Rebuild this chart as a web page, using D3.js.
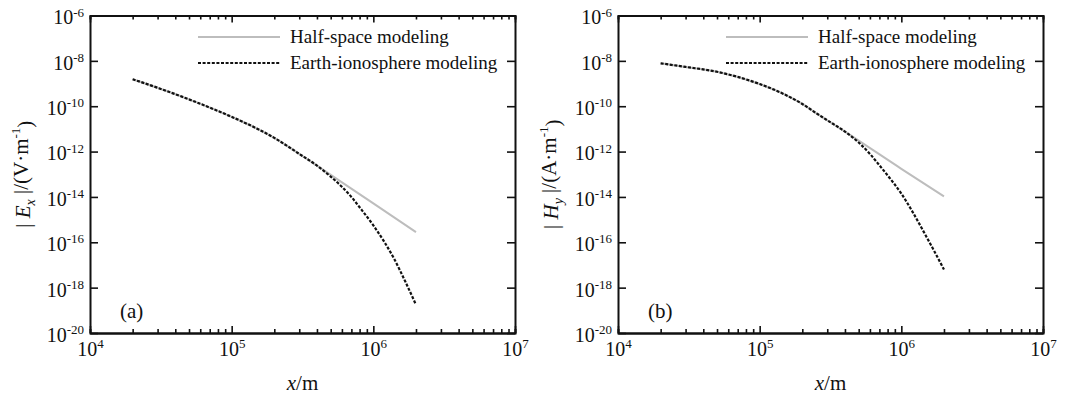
<!DOCTYPE html>
<html>
<head>
<meta charset="utf-8">
<script src="https://cdn.jsdelivr.net/npm/d3@7"></script>
<style>
  body { margin: 0; background: #fff; }
  text { font-family: "Liberation Serif", "Times New Roman", serif; fill: #111; }
</style>
</head>
<body>
<svg id="chart" width="1066" height="395"></svg>
<script>
// distances along the surface (m)
const xA = [2e4, 3e4, 5e4, 1e5, 1.5e5, 2e5, 3e5, 4e5];
const exShared = [1.55e-9, 6.5e-10, 2.0e-10, 3.4e-11, 1.05e-11, 4.0e-12, 7.9e-13, 2.4e-13];
const exHalfTailX = [1e6, 2e6];
const exHalfTail = [5.2e-15, 2.8e-16];
const exEarthTailX = [5e5, 6e5, 7e5, 8e5, 1e6, 1.2e6, 1.4e6, 1.7e6, 2e6];
const exEarthTail = [7.9e-14, 2.8e-14, 1.0e-14, 3.5e-15, 5.6e-16, 1.0e-16, 1.9e-17, 1.6e-18, 1.75e-19];

const xB = [2e4, 3e4, 5e4, 1e5, 1.5e5, 2e5, 2.5e5, 3e5, 4e5];
const hyShared = [7.8e-9, 5.4e-9, 3.3e-9, 9.5e-10, 3.3e-10, 1.26e-10, 5.0e-11, 2.4e-11, 7.6e-12];
const hyHalfTailX = [1e6, 2e6];
const hyHalfTail = [1.74e-13, 1.05e-14];
const hyEarthTailX = [5e5, 6e5, 7e5, 8e5, 1e6, 1.2e6, 1.5e6, 1.7e6, 2e6];
const hyEarthTail = [2.5e-12, 7.9e-13, 2.5e-13, 8.9e-14, 1.4e-14, 2.2e-15, 1.8e-16, 4.3e-17, 6.3e-18];

const xTickExps = [4, 5, 6, 7];
const yTickExps = [-6, -8, -10, -12, -14, -16, -18, -20];
const legendNames = ["Half-space modeling", "Earth-ionosphere modeling"];

const zip = (xs, ys) => xs.map((x, i) => ({ x, y: ys[i] }));

const panels = [
    {
        left: 90, right: 515, tag: "(a)", field: "E", sub: "x", unit: "V",
        half: zip(xA, exShared).concat(zip(exHalfTailX, exHalfTail)),
        earth: zip(xA, exShared).concat(zip(exEarthTailX, exEarthTail))
    },
    {
        left: 618, right: 1043, tag: "(b)", field: "H", sub: "y", unit: "A",
        half: zip(xB, hyShared).concat(zip(hyHalfTailX, hyHalfTail)),
        earth: zip(xB, hyShared).concat(zip(hyEarthTailX, hyEarthTail))
    }
];

const plotTop = 15.5;
const plotBottom = 333;
const svg = d3.select("#chart");

const minorX = [];
[4, 5, 6].forEach((e) => {
    for (let m = 2; m <= 9; m++) minorX.push(m * Math.pow(10, e));
});

function powerLabels(sel, supDy) {
    sel.selectAll(".tick text").each(function (d) {
        const t = d3.select(this);
        const e = Math.round(Math.log10(d));
        t.text(null);
        t.append("tspan").text("10");
        t.append("tspan").attr("dy", supDy).style("font-size", "13px").text(e);
    });
}

function styleAxis(g) {
    g.select(".domain").attr("stroke", "#111").attr("stroke-width", 2);
    g.selectAll(".tick line").attr("stroke", "#111").attr("stroke-width", 1.6);
}

panels.forEach((p) => {
    const x = d3.scaleLog().domain([1e4, 1e7]).range([p.left, p.right]);
    const y = d3.scaleLog().domain([1e-20, 1e-6]).range([plotBottom, plotTop]);
    const g = svg.append("g");

    const xMajor = xTickExps.map((e) => Math.pow(10, e));
    const yMajor = yTickExps.map((e) => Math.pow(10, e));

    // minor ticks on bottom / top
    g.append("g").attr("transform", `translate(0,${plotBottom})`)
        .call(d3.axisBottom(x).tickValues(minorX).tickSize(-4).tickFormat(""))
        .call(styleAxis);
    g.append("g").attr("transform", `translate(0,${plotTop})`)
        .call(d3.axisTop(x).tickValues(minorX).tickSize(-4).tickFormat(""))
        .call(styleAxis);

    const xb = g.append("g").attr("transform", `translate(0,${plotBottom})`)
        .call(d3.axisBottom(x).tickValues(xMajor).tickSizeInner(-7).tickSizeOuter(0).tickPadding(9))
        .call(styleAxis);
    xb.selectAll(".tick text").style("font-size", "20px").attr("fill", "#111");
    powerLabels(xb, "-0.6em");

    g.append("g").attr("transform", `translate(0,${plotTop})`)
        .call(d3.axisTop(x).tickValues(xMajor).tickSizeInner(-7).tickSizeOuter(0).tickFormat(""))
        .call(styleAxis);

    const yl = g.append("g").attr("transform", `translate(${p.left},0)`)
        .call(d3.axisLeft(y).tickValues(yMajor).tickSizeInner(-8).tickSizeOuter(0).tickPadding(6))
        .call(styleAxis);
    yl.selectAll(".tick text").style("font-size", "20px").attr("fill", "#111").attr("dy", "0.42em");
    powerLabels(yl, "-0.6em");

    g.append("g").attr("transform", `translate(${p.right},0)`)
        .call(d3.axisRight(y).tickValues(yMajor).tickSizeInner(-8).tickSizeOuter(0).tickFormat(""))
        .call(styleAxis);

    const line = d3.line().x((d) => x(d.x)).y((d) => y(d.y)).curve(d3.curveMonotoneX);

    g.append("path").datum(p.half)
        .attr("fill", "none").attr("stroke", "#bdbdbd").attr("stroke-width", 2)
        .attr("d", line);
    g.append("path").datum(p.earth)
        .attr("fill", "none").attr("stroke", "#111").attr("stroke-width", 2.2)
        .attr("stroke-dasharray", "3,1.6")
        .attr("d", line);

    // legend
    const lg = g.append("g").attr("transform", `translate(${p.left},0)`);
    lg.append("line").attr("x1", 108).attr("x2", 190).attr("y1", 37).attr("y2", 37)
        .attr("stroke", "#bdbdbd").attr("stroke-width", 2);
    lg.append("line").attr("x1", 108).attr("x2", 190).attr("y1", 63).attr("y2", 63)
        .attr("stroke", "#111").attr("stroke-width", 2.2).attr("stroke-dasharray", "3,1.6");
    lg.selectAll("text.leg").data(legendNames).join("text")
        .attr("class", "leg")
        .attr("x", 200).attr("y", (d, i) => 43 + i * 26)
        .style("font-size", "19px")
        .text((d) => d);

    g.append("text").attr("x", p.left + 30).attr("y", 318)
        .style("font-size", "21px").text(p.tag);

    // axis titles
    const xt = g.append("text").attr("x", (p.left + p.right) / 2).attr("y", 390)
        .attr("text-anchor", "middle").style("font-size", "21px");
    xt.append("tspan").style("font-style", "italic").text("x");
    xt.append("tspan").text("/m");

    const yt = g.append("text")
        .attr("transform", `translate(${p.left - 60},${(plotTop + plotBottom) / 2}) rotate(-90)`)
        .attr("text-anchor", "middle").style("font-size", "21px");
    yt.append("tspan").text("| ");
    yt.append("tspan").style("font-style", "italic").text(p.field);
    yt.append("tspan").style("font-style", "italic").style("font-size", "14px").attr("dy", "0.35em").text(p.sub);
    yt.append("tspan").attr("dy", "-0.35em").text(" |/(" + p.unit + "·m");
    yt.append("tspan").style("font-size", "13px").attr("dy", "-0.55em").text("-1");
    yt.append("tspan").attr("dy", "0.55em").text(")");
});
</script>
</body>
</html>
